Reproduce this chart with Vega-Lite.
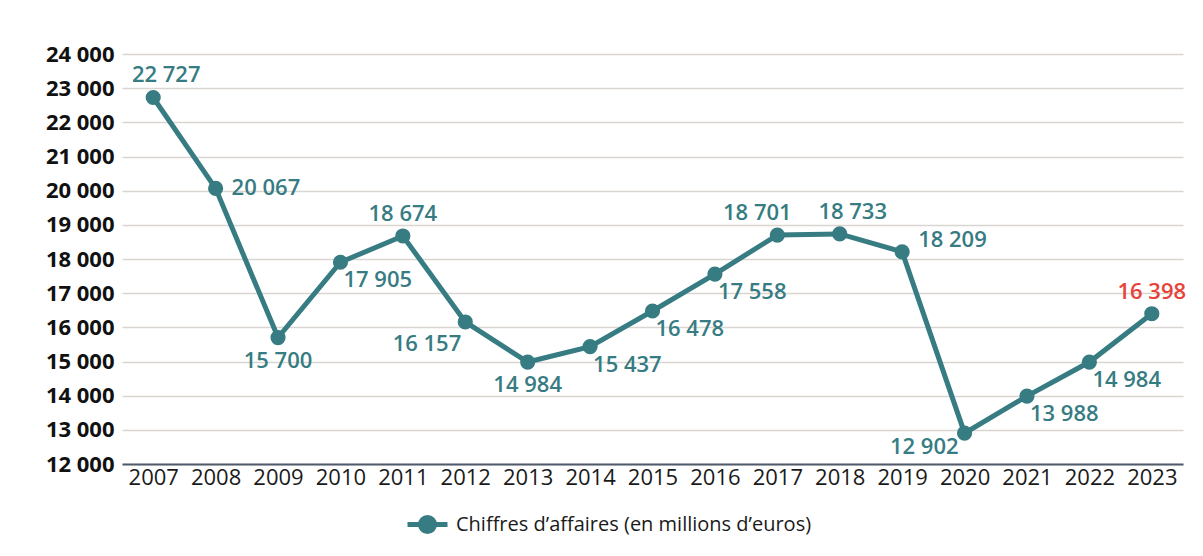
{
  "$schema": "https://vega.github.io/schema/vega-lite/v6.json",
  "autosize": "none",
  "width": 1061,
  "height": 410,
  "padding": {"left": 122, "top": 54, "right": 20, "bottom": 92},
  "background": "#ffffff",
  "config": {
    "view": {"stroke": null},
    "font": "Open Sans",
    "locale": {"number": {"decimal": ",", "thousands": " ", "grouping": [3], "currency": ["", " €"]}}
  },
  "data": {
    "values": [
      {"annee": "2007", "ca": 22727, "serie": "Chiffres d’affaires (en millions d’euros)"},
      {"annee": "2008", "ca": 20067, "serie": "Chiffres d’affaires (en millions d’euros)"},
      {"annee": "2009", "ca": 15700, "serie": "Chiffres d’affaires (en millions d’euros)"},
      {"annee": "2010", "ca": 17905, "serie": "Chiffres d’affaires (en millions d’euros)"},
      {"annee": "2011", "ca": 18674, "serie": "Chiffres d’affaires (en millions d’euros)"},
      {"annee": "2012", "ca": 16157, "serie": "Chiffres d’affaires (en millions d’euros)"},
      {"annee": "2013", "ca": 14984, "serie": "Chiffres d’affaires (en millions d’euros)"},
      {"annee": "2014", "ca": 15437, "serie": "Chiffres d’affaires (en millions d’euros)"},
      {"annee": "2015", "ca": 16478, "serie": "Chiffres d’affaires (en millions d’euros)"},
      {"annee": "2016", "ca": 17558, "serie": "Chiffres d’affaires (en millions d’euros)"},
      {"annee": "2017", "ca": 18701, "serie": "Chiffres d’affaires (en millions d’euros)"},
      {"annee": "2018", "ca": 18733, "serie": "Chiffres d’affaires (en millions d’euros)"},
      {"annee": "2019", "ca": 18209, "serie": "Chiffres d’affaires (en millions d’euros)"},
      {"annee": "2020", "ca": 12902, "serie": "Chiffres d’affaires (en millions d’euros)"},
      {"annee": "2021", "ca": 13988, "serie": "Chiffres d’affaires (en millions d’euros)"},
      {"annee": "2022", "ca": 14984, "serie": "Chiffres d’affaires (en millions d’euros)"},
      {"annee": "2023", "ca": 16398, "serie": "Chiffres d’affaires (en millions d’euros)"}
    ]
  },
  "encoding": {
    "x": {
      "field": "annee", "type": "ordinal",
      "scale": {"type": "point", "padding": 0.5},
      "axis": {
        "title": null, "labelAngle": 0, "labelFontSize": 22, "labelColor": "#1a1a1a",
        "labelPadding": 3, "ticks": false, "domainColor": "#4f5a6b", "domainWidth": 2, "grid": false
      }
    },
    "y": {
      "field": "ca", "type": "quantitative",
      "scale": {"domain": [12000, 24000], "nice": false, "zero": false},
      "axis": {
        "title": null, "values": [12000, 13000, 14000, 15000, 16000, 17000, 18000, 19000, 20000, 21000, 22000, 23000, 24000],
        "format": ",d", "labelFontSize": 22, "labelFontWeight": "bold", "labelColor": "#111111",
        "labelPadding": 8, "ticks": false, "domain": false, "gridColor": "#d9d5d1", "gridWidth": 1.5
      }
    }
  },
  "layer": [
    {
      "mark": {"type": "line", "strokeWidth": 5, "point": {"size": 230, "filled": true, "opacity": 1}},
      "encoding": {
        "color": {
          "field": "serie", "type": "nominal",
          "scale": {"range": ["#367c82"]},
          "legend": {
            "title": null, "orient": "none", "legendX": 283, "legendY": 448, "direction": "horizontal",
            "labelFontSize": 20, "labelColor": "#1a1a1a", "labelLimit": 600, "labelOffset": 6,
            "symbolType": "M-1,0H1M0.35,0A0.35,0.35 0 1,1 -0.35,0A0.35,0.35 0 1,1 0.35,0",
            "symbolSize": 1600, "symbolStrokeWidth": 5, "symbolFillColor": "#367c82", "symbolStrokeColor": "#367c82"
          }
        }
      }
    },
    {
      "transform": [{"filter": "datum.annee == '2011'"}],
      "mark": {"type": "text", "dy": -22, "fontSize": 22, "fontWeight": 600, "color": "#367c82"},
      "encoding": {"text": {"field": "ca", "type": "quantitative", "format": ",d"}}
    },
    {
      "transform": [{"filter": "datum.annee == '2023'"}],
      "mark": {"type": "text", "dy": -22, "fontSize": 22, "fontWeight": 600, "color": "#e8423a"},
      "encoding": {"text": {"field": "ca", "type": "quantitative", "format": ",d"}}
    },
    {
      "transform": [{"filter": "datum.annee == '2007' || datum.annee == '2018'"}],
      "mark": {"type": "text", "dx": 13, "dy": -22, "fontSize": 22, "fontWeight": 600, "color": "#367c82"},
      "encoding": {"text": {"field": "ca", "type": "quantitative", "format": ",d"}}
    },
    {
      "transform": [{"filter": "datum.annee == '2017'"}],
      "mark": {"type": "text", "dx": -20, "dy": -22, "fontSize": 22, "fontWeight": 600, "color": "#367c82"},
      "encoding": {"text": {"field": "ca", "type": "quantitative", "format": ",d"}}
    },
    {
      "transform": [{"filter": "datum.annee == '2008'"}],
      "mark": {"type": "text", "align": "left", "dx": 16, "dy": 0, "fontSize": 22, "fontWeight": 600, "color": "#367c82"},
      "encoding": {"text": {"field": "ca", "type": "quantitative", "format": ",d"}}
    },
    {
      "transform": [{"filter": "datum.annee == '2019'"}],
      "mark": {"type": "text", "align": "left", "dx": 16, "dy": -12, "fontSize": 22, "fontWeight": 600, "color": "#367c82"},
      "encoding": {"text": {"field": "ca", "type": "quantitative", "format": ",d"}}
    },
    {
      "transform": [{"filter": "datum.annee == '2009' || datum.annee == '2013'"}],
      "mark": {"type": "text", "dy": 23, "fontSize": 22, "fontWeight": 600, "color": "#367c82"},
      "encoding": {"text": {"field": "ca", "type": "quantitative", "format": ",d"}}
    },
    {
      "transform": [{"filter": "indexof(['2010','2014','2015','2016','2021','2022'], datum.annee) >= 0"}],
      "mark": {"type": "text", "align": "left", "dx": 3, "dy": 18, "fontSize": 22, "fontWeight": 600, "color": "#367c82"},
      "encoding": {"text": {"field": "ca", "type": "quantitative", "format": ",d"}}
    },
    {
      "transform": [{"filter": "datum.annee == '2012'"}],
      "mark": {"type": "text", "align": "right", "dx": -4, "dy": 22, "fontSize": 22, "fontWeight": 600, "color": "#367c82"},
      "encoding": {"text": {"field": "ca", "type": "quantitative", "format": ",d"}}
    },
    {
      "transform": [{"filter": "datum.annee == '2020'"}],
      "mark": {"type": "text", "align": "right", "dx": -6, "dy": 14, "fontSize": 22, "fontWeight": 600, "color": "#367c82"},
      "encoding": {"text": {"field": "ca", "type": "quantitative", "format": ",d"}}
    }
  ]
}
